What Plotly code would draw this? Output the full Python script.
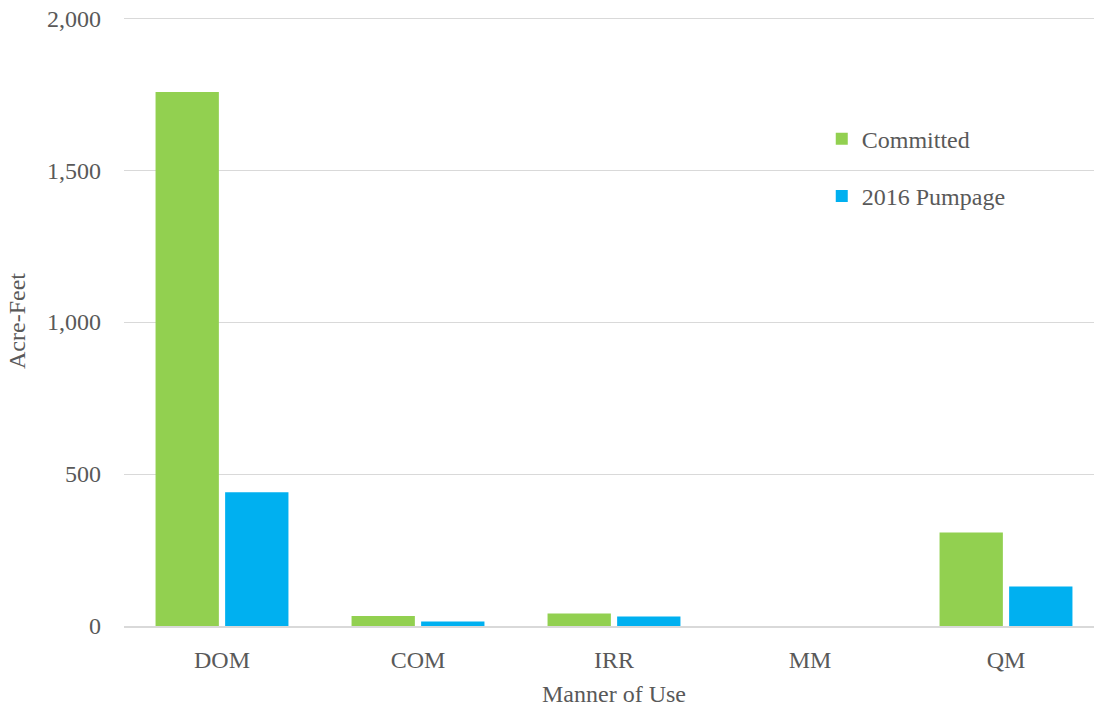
import plotly.graph_objects as go

categories = ["DOM", "COM", "IRR", "MM", "QM"]
committed = [1757, 33, 41, 0, 308]
pumpage_2016 = [440, 15, 31, 0, 130]
y_ticks = [0, 500, 1000, 1500, 2000]
y_tick_labels = ["0", "500", "1,000", "1,500", "2,000"]

font_family = "Liberation Serif, Times New Roman, serif"
gray = "#595959"
fs = 24

fig = go.Figure()
fig.add_trace(go.Bar(x=categories, y=committed, name="Committed",
                     marker=dict(color="#92d050", line=dict(width=0)),
                     legendgroup="a"))
fig.add_trace(go.Bar(x=categories, y=pumpage_2016, name="2016 Pumpage",
                     marker=dict(color="#00b0f0", line=dict(width=0)),
                     legendgroup="b"))

fig.update_layout(
    width=1104, height=713,
    margin=dict(l=124, r=0, t=16, b=87),
    paper_bgcolor="white", plot_bgcolor="white",
    font=dict(family=font_family, size=fs, color=gray),
    barmode="group", bargap=0.29, bargroupgap=0.09,
    legend=dict(x=0.712, y=0.835, xanchor="left", yanchor="top",
                bgcolor="rgba(0,0,0,0)", traceorder="grouped",
                tracegroupgap=23, font=dict(size=fs, color=gray)),
    xaxis=dict(title=dict(text="Manner of Use", font=dict(size=fs, color=gray), standoff=13),
               showgrid=False, showline=True, linecolor="#d9d9d9", linewidth=2,
               ticks="", tickfont=dict(size=fs, color=gray), ticklabelstandoff=11),
    yaxis=dict(title=dict(text="Acre-Feet", font=dict(size=fs, color=gray), standoff=14),
               range=[0, 2007], tickvals=y_ticks, ticktext=y_tick_labels,
               showgrid=True, gridcolor="#d9d9d9", gridwidth=1.3,
               zeroline=False, showline=False, ticks="",
               tickfont=dict(size=fs, color=gray), ticklabelstandoff=22,
               ticklabeloverflow="allow"),
)

fig.write_html(
    "out.html",
    config={"displayModeBar": False},
    post_script="document.body.style.margin='0';document.body.style.overflow='hidden';",
)
